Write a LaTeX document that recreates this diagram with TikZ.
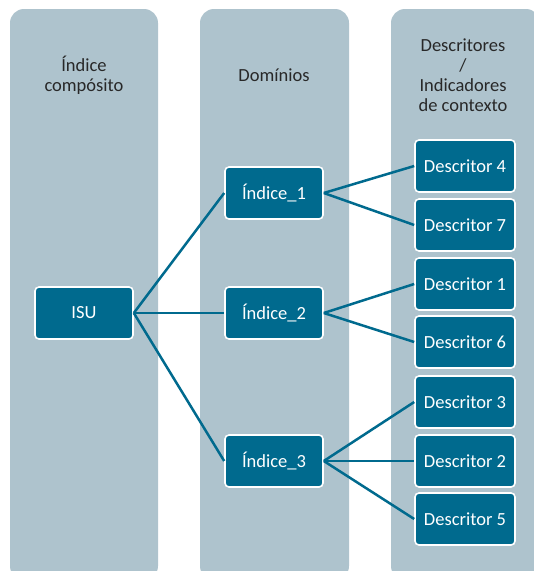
\documentclass[tikz,border=0pt]{standalone}
\usepackage{fontspec}
\setmainfont{Carlito}
\definecolor{colgrey}{RGB}{174,195,205}
\definecolor{boxteal}{RGB}{0,106,142}
\definecolor{headtext}{RGB}{40,40,40}
\begin{document}
\begin{tikzpicture}[x=1pt,y=-1pt,
    column/.style={fill=colgrey,rounded corners=14pt},
    head/.style={text=headtext,align=center,font=\fontsize{18.5}{20}\selectfont},
    item/.style={draw=white,line width=1.6pt,fill=boxteal,rounded corners=4pt,
        text=white,minimum width=98pt,minimum height=52pt,inner sep=0pt,
        font=\fontsize{18.5}{20}\selectfont},
    link/.style={draw=boxteal,line width=2.5pt}]
    \useasboundingbox (0,0) rectangle (534,571);
    \fill[column] (10,9) rectangle (158,580);
    \fill[column] (200,9) rectangle (349,580);
    \fill[column] (391,9) rectangle (540,580);
    \node[head] (h1) at (84,75) {Índice\\compósito};
    \node[head] (h2) at (274,75) {Domínios};
    \node[head] (h3) at (463,75) {Descritores\\/\\Indicadores\\de contexto};
    \node[item] (isu) at (84,313) {ISU};
    \node[item] (i1) at (274,193) {Índice\_1};
    \node[item] (i2) at (274,313) {Índice\_2};
    \node[item] (i3) at (274,461) {Índice\_3};
    \node[item,minimum width=100pt] (d4) at (465,166) {Descritor 4};
    \node[item,minimum width=100pt] (d7) at (465,225) {Descritor 7};
    \node[item,minimum width=100pt] (d1) at (465,284) {Descritor 1};
    \node[item,minimum width=100pt] (d6) at (465,342) {Descritor 6};
    \node[item,minimum width=100pt] (d3) at (465,402) {Descritor 3};
    \node[item,minimum width=100pt] (d2) at (465,461) {Descritor 2};
    \node[item,minimum width=100pt] (d5) at (465,519) {Descritor 5};
    \draw[link] (isu.east) -- (i1.west);
    \draw[link] (isu.east) -- (i2.west);
    \draw[link] (isu.east) -- (i3.west);
    \draw[link] (i1.east) -- (d4.west);
    \draw[link] (i1.east) -- (d7.west);
    \draw[link] (i2.east) -- (d1.west);
    \draw[link] (i2.east) -- (d6.west);
    \draw[link] (i3.east) -- (d3.west);
    \draw[link] (i3.east) -- (d2.west);
    \draw[link] (i3.east) -- (d5.west);
\end{tikzpicture}
\end{document}
